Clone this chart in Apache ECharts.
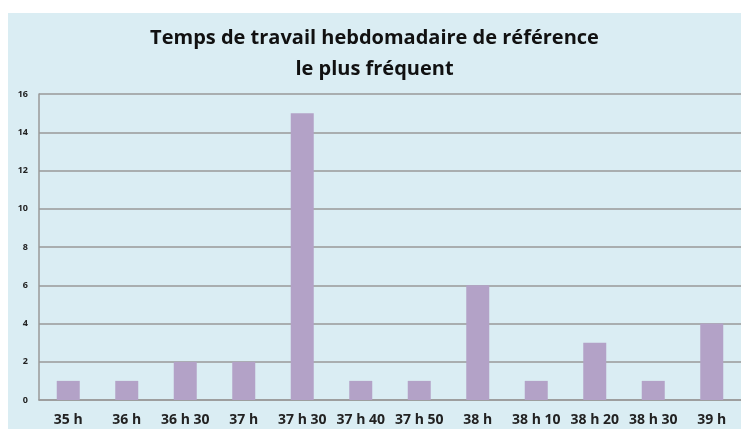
<!DOCTYPE html>
<html><head><meta charset="utf-8">
<script src="https://cdn.jsdelivr.net/npm/echarts@6/dist/echarts.min.js"></script>
<style>html,body{margin:0;padding:0;background:#fff;width:741px;height:429px;overflow:hidden}
#c{position:absolute;left:8px;top:13px;width:733px;height:416px}</style>
</head><body><div id="c"></div>
<script>
const categories = ["35 h","36 h","36 h 30","37 h","37 h 30","37 h 40","37 h 50","38 h","38 h 10","38 h 20","38 h 30","39 h"];
const values = [1,1,2,2,15,1,1,6,1,3,1,4];
const titleText = "Temps de travail hebdomadaire de référence\nle plus fréquent";
const chart = echarts.init(document.getElementById('c'));
chart.setOption({
  backgroundColor: '#DAEDF3',
  animation: false,
  title: {
    text: titleText, left: 'center', top: 5, padding: [5, 5, 5, 24],
    textStyle: {fontFamily: 'Open Sans', fontWeight: 'bold', fontSize: 20, lineHeight: 31, color: '#111'}
  },
  grid: {left: 31, right: 0, top: 81, bottom: 29},
  xAxis: {
    type: 'category', data: categories,
    axisLine: {lineStyle: {color: '#999', width: 1.5}},
    axisTick: {show: false},
    axisLabel: {fontFamily: 'Open Sans', fontWeight: 'bold', fontSize: 14, color: '#222', margin: 13, interval: 0}
  },
  yAxis: {
    type: 'value', min: 0, max: 16, interval: 2,
    axisLine: {show: true, lineStyle: {color: '#999', width: 1.5}},
    axisTick: {show: false},
    splitLine: {lineStyle: {color: '#999', width: 1.5}},
    axisLabel: {fontFamily: 'Open Sans', fontWeight: 'bold', fontSize: 9, color: '#222', margin: 11}
  },
  series: [{
    type: 'bar', data: values, barWidth: 23,
    itemStyle: {color: '#B3A2C7'}
  }]
});
</script></body></html>
